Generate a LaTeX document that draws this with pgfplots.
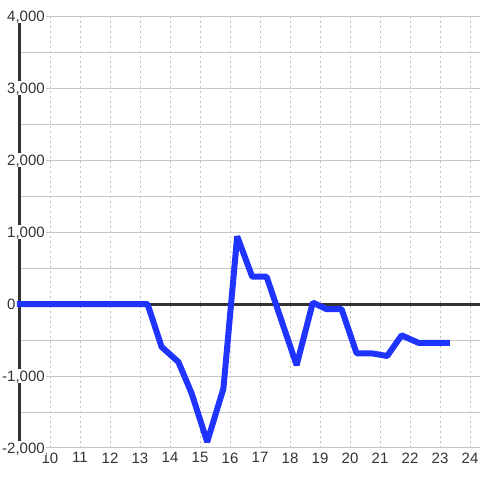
\documentclass[border=0pt]{standalone}
\usepackage{fontspec}
\setmainfont{Liberation Sans}
\usepackage{pgfplots}
\pgfplotsset{compat=1.18}
\definecolor{lineblue}{RGB}{32,52,255}
\definecolor{txt}{RGB}{51,51,51}
\begin{document}
\begin{tikzpicture}
\begin{axis}[
    at={(0,0)}, anchor=south west,
    set layers,
    scale only axis, width=460pt, height=432pt,
    xmin=9, xmax=24.333, ymin=-2000, ymax=4000,
    xtick={10,...,24}, ytick={-2000,-1000,...,4000},
    yticklabels={{\llap{-}2,000}, {\llap{-}1,000}, 0, {1,000}, {2,000}, {3,000}, {4,000}},
    /pgf/number format/assume math mode=true,
    minor y tick num=1,
    xmajorgrids, ymajorgrids, yminorgrids,
    x grid style={black!25, dash pattern=on 2pt off 3pt, line width=1pt},
    y grid style={black!22, line width=1pt},
    major tick length=0pt, minor tick length=0pt,
    axis y line*=left, axis x line*=bottom,
    x axis line style={draw=none},
    y axis line style={txt, line width=3pt},
    tick label style={font=\fontsize{15}{17}\selectfont, text=txt},
    yticklabel style={anchor=west, fill=white, text depth=0pt, inner xsep=1pt, inner ysep=2pt, xshift=-14pt},
    xticklabel style={yshift=-1pt},
    clip=false,
]
\addplot[txt, line width=3pt] coordinates {(9,0) (24.333,0)};
\addplot[lineblue, line width=6pt, line cap=rect, line join=bevel] coordinates {
(9,0) (13.25,0) (13.72,-595) (14.28,-805) (14.72,-1240) (15.24,-1915)
(15.78,-1175) (16.24,940) (16.74,379) (17.22,379) (18.22,-850)
(18.76,20) (19.22,-72) (19.72,-72) (20.22,-685) (20.72,-685)
(21.24,-722) (21.72,-435) (22.28,-539) (23.23,-539)
};
\end{axis}
\pgfresetboundingbox
\useasboundingbox (-20pt,-32pt) rectangle (460pt,448pt);
\end{tikzpicture}
\end{document}
